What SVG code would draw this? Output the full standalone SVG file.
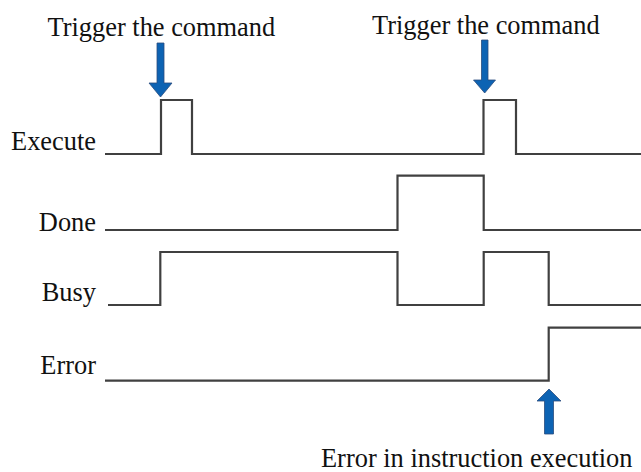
<svg xmlns="http://www.w3.org/2000/svg" width="641" height="472" viewBox="0 0 641 472">
<style>
text{font-family:"Liberation Serif","Times New Roman",serif;font-size:26.4px;fill:#111}
.sig{fill:none;stroke:#404040;stroke-width:2.2;stroke-linejoin:miter}
.arr{fill:#0d63b3;stroke:#2b4d7d;stroke-width:0.8}
</style>
<rect width="641" height="472" fill="#fff"/>
<g id="execute">
<text x="96" y="150" text-anchor="end">Execute</text>
<path class="sig" d="M105,154 H161 V100 H192 V154 H483.5 V100 H516 V154 H641"/>
</g>
<g id="done">
<text x="96" y="231" text-anchor="end">Done</text>
<path class="sig" d="M105,230 H397.5 V175.7 H483.7 V230 H641"/>
</g>
<g id="busy">
<text x="96" y="301" text-anchor="end">Busy</text>
<path class="sig" d="M108,305 H160.3 V252 H397.5 V305 H483.7 V252 H548.7 V305 H641"/>
</g>
<g id="error">
<text x="96" y="373.5" text-anchor="end">Error</text>
<path class="sig" d="M105,380.7 H548.7 V327.7 H641"/>
</g>
<g id="trigger1">
<text x="47.5" y="36">Trigger the command</text>
<polygon class="arr" points="157,43 164,43 164,83 172,83 160.5,97 149,83 157,83"/>
</g>
<g id="trigger2">
<text x="372" y="33.5">Trigger the command</text>
<polygon class="arr" points="481.5,40 488,40 488,80 495.5,80 484.7,93 473.5,80 481.5,80"/>
</g>
<g id="error-note">
<polygon class="arr" points="549,389 561,401 553.5,401 553.5,434 544.5,434 544.5,401 537,401"/>
<text x="321" y="467">Error in instruction execution</text>
</g>
</svg>
